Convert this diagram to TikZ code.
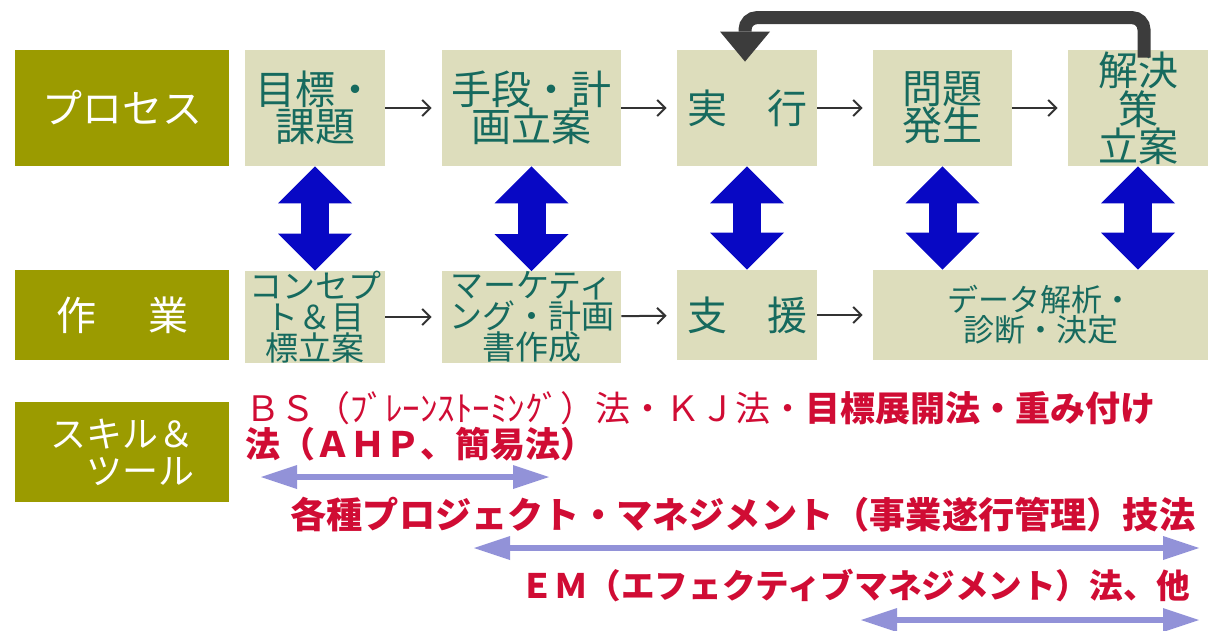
\documentclass[tikz,border=0pt]{standalone}
\usepackage{fontspec}
\setmainfont{Noto Sans CJK JP}
\usetikzlibrary{arrows.meta}
\definecolor{labelolive}{RGB}{155,155,0}
\definecolor{boxbeige}{RGB}{221,221,188}
\definecolor{boxtext}{RGB}{22,106,94}
\definecolor{updownblue}{RGB}{8,8,196}
\definecolor{loopgray}{RGB}{60,60,60}
\definecolor{skillred}{RGB}{208,12,52}
\definecolor{spanblue}{RGB}{146,146,216}
\begin{document}
\begin{tikzpicture}[x=0.5pt,y=-0.5pt,
  rowlabel/.style={fill=labelolive,text=white,minimum width=107pt,inner sep=0pt,align=center,font=\fontsize{20}{18}\selectfont},
  procbox/.style={fill=boxbeige,text=boxtext,minimum width=70pt,minimum height=58pt,inner sep=0pt,align=center,font=\fontsize{20}{18.5}\selectfont},
  workbox/.style={procbox,minimum height=45pt,font=\fontsize{16.5}{15.5}\selectfont},
  flow/.style={-{Straight Barb[length=4pt,width=8pt]},line width=1pt,draw=black!80,shorten >=5pt},
  updown/.style={{Triangle[width=37pt,length=18.5pt,line width=0pt]}-{Triangle[width=37pt,length=18.5pt,line width=0pt]},line width=14pt,draw=updownblue},
  loopback/.style={-{Triangle[width=25pt,length=15pt,line width=0pt]},line width=6.5pt,draw=loopgray,rounded corners=6pt},
  span/.style={{Triangle[width=12pt,length=18pt,line width=0pt]}-{Triangle[width=12pt,length=18pt,line width=0pt]},line width=3pt,draw=spanblue},
  skilltext/.style={text=skillred,inner sep=0pt,anchor=west,align=left,font=\fontsize{17.5}{16.5}\selectfont}]
\useasboundingbox (0,0) rectangle (1211,631);

\node[rowlabel,minimum height=58pt] (process) at (122,108) {プロセス};
\node[rowlabel,minimum height=45pt] (work) at (122,315) {作\hspace{26pt}業};
\node[rowlabel,minimum height=50pt,font=\fontsize{18}{18.5}\selectfont] (skill) at (122,452) {スキル＆\\　ツール};

\node[procbox] (goal) at (315,108) {目標・\\課題};
\node[procbox,minimum width=89.5pt] (plan) at (531.5,108) {手段・計\\画立案};
\node[procbox] (exec) at (747,108) {実　行};
\node[procbox,minimum width=69.5pt] (issue) at (942.5,108) {問題\\発生};
\node[procbox] (solve) at (1138,108) {解決\\策\\立案};

\node[workbox] (concept) at (315,317) {コンセプ\\ト＆目\\標立案};
\node[workbox,minimum width=89.5pt] (market) at (531.5,317) {マーケティ\\ング・計画\\書作成};
\node[workbox,font=\fontsize{20}{18.5}\selectfont] (support) at (747,315) {支　援};
\node[workbox,minimum width=167.5pt,font=\fontsize{15.5}{15}\selectfont] (data) at (1040.5,315) {データ解析・\\診断・決定};

\draw[flow] (goal) -- (plan);
\draw[flow] (plan) -- (exec);
\draw[flow] (exec) -- (issue);
\draw[flow] (issue) -- (solve);
\draw[flow] (concept) -- (market);
\draw[flow] (market) -- (support);
\draw[flow] (support) -- (data);

\draw[updown] (goal.south) -- (concept.north);
\draw[updown] (plan.south) -- (market.north);
\draw[updown] (exec.south) -- (support.north);
\draw[updown] (issue.south) -- (issue.south |- data.north);
\draw[updown] (solve.south) -- (solve.south |- data.north);

\draw[loopback] ([xshift=3pt,yshift=-4pt]solve.north) -- ++(0,20pt) -| ([xshift=-1pt,yshift=-6pt]exec.north);

\node[skilltext] (brain) at (245,426.5) {ＢＳ（ﾌﾞﾚｰﾝｽﾄｰﾐﾝｸﾞ）法・ＫＪ法・\textbf{目標展開法・重み付け}\\\textbf{法（ＡＨＰ、簡易法）}};
\node[skilltext,font=\fontsize{18.1}{18}\selectfont] (projmgmt) at (290,515) {\textbf{各種プロジェクト・マネジメント（事業遂行管理）技法}};
\node[skilltext,font=\fontsize{16.8}{18}\selectfont] (effmgmt) at (520,586) {\textbf{ＥＭ（エフェクティブマネジメント）法、他}};

\coordinate (brainL) at (261,477);
\coordinate (brainR) at (549,477);
\coordinate (projL) at (474,548);
\coordinate (projR) at (1199,548);
\coordinate (effL) at (861,620);
\coordinate (effR) at (1199,620);
\draw[span] (brainL) -- (brainR);
\draw[span] (projL) -- (projR);
\draw[span] (effL) -- (effR);
\end{tikzpicture}
\end{document}
